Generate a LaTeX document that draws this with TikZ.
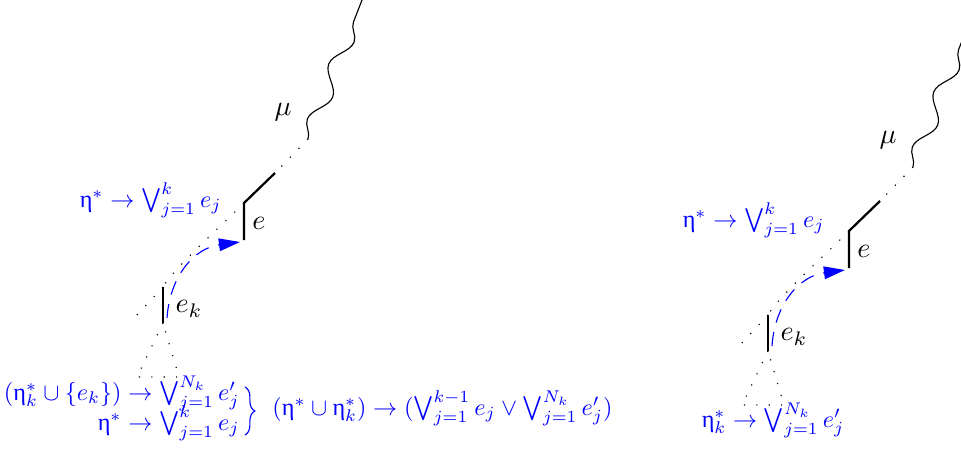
\documentclass[tikz,border=0pt]{standalone}
\usepackage{fontspec}
\newfontfamily\gregofont{Liberation Serif}
\newcommand{\etaup}{\mbox{\gregofont η}}
\usetikzlibrary{arrows.meta,decorations.pathmorphing,decorations.pathreplacing,positioning}

\tikzset{
  ramo/.style={thick},
  trilha/.style={loosely dotted},
  onda/.style={decorate,decoration={snake,amplitude=2.8pt,segment length=21pt}},
  retorno/.style={blue,dash pattern=on 5pt off 3.5pt,-{Triangle[length=7.5pt,width=4.5pt]}},
  rotulo/.style={blue,inner sep=0pt,scale=0.86},
}

\begin{document}
\begin{tikzpicture}[x=0.0125cm,y=-0.0125cm]
  \useasboundingbox (0,0) rectangle (961,449);
  % arvore da esquerda
  \coordinate (mu1) at (362,0);
  \coordinate (m1) at (308,139);
  \coordinate (r1) at (275,173);
  \coordinate (j1) at (244,203);
  \coordinate (e1) at (244,240);
  \coordinate (k1) at (163,287);
  \coordinate (kb1) at (163,323);
  \coordinate (kl1) at (135,317);
  \coordinate (tl1) at (137,377);
  \coordinate (tr1) at (179,377);
  \coordinate (v1) at (167,318);
  \coordinate (a1) at (240,242);
  \draw[onda] (m1) -- (mu1);
  \draw[trilha] (m1) -- (r1);
  \draw[ramo] (r1) -- (j1) -- (e1);
  \draw[trilha] (j1) .. controls +(-29,29) and +(12,-20) .. (k1);
  \draw[ramo] (k1) -- (kb1);
  \draw[trilha] (k1) -- (kl1);
  \draw[trilha] (kb1) -- (tl1) -- (tr1) -- cycle;
  \draw[retorno] (v1) .. controls +(3,-43) and +(-45,6) .. (a1);
  \node (lmu1) at (283,112) {$\mu$};
  \node[anchor=west,inner sep=1pt] (le1) at (249,223) {$e$};
  \node (lk1) at (189,309) {$e_k$};
  \node[rotulo,anchor=base east] (c1) at (222,207) {$\etaup^* \rightarrow \bigvee_{j=1}^{k} e_j$};
  \node[rotulo,anchor=base east] (b1) at (240,400) {$(\etaup_k^* \cup \{e_k\}) \rightarrow \bigvee_{j=1}^{N_k} e'_j$};
  \node[rotulo,anchor=base east] (b2) at (240,430) {$\etaup^* \rightarrow \bigvee_{j=1}^{k} e_j$};
  \draw[blue,decorate,decoration={brace,amplitude=3.5pt}] (245,387) -- (245,435);
  \node[rotulo,anchor=base west] (s1) at (272,415) {$(\etaup^* \cup \etaup_k^*) \rightarrow (\bigvee_{j=1}^{k-1} e_j \vee \bigvee_{j=1}^{N_k} e'_j)$};
  % arvore da direita
  \begin{scope}[shift={(605,28)}]
  \coordinate (mu2) at (362,0);
  \coordinate (m2) at (308,139);
  \coordinate (r2) at (275,173);
  \coordinate (j2) at (244,203);
  \coordinate (e2) at (244,240);
  \coordinate (k2) at (163,287);
  \coordinate (kb2) at (163,323);
  \coordinate (kl2) at (135,317);
  \coordinate (tl2) at (137,377);
  \coordinate (tr2) at (179,377);
  \coordinate (v2) at (167,318);
  \coordinate (a2) at (240,242);
  \draw[onda] (m2) -- (mu2);
  \draw[trilha] (m2) -- (r2);
  \draw[ramo] (r2) -- (j2) -- (e2);
  \draw[trilha] (j2) .. controls +(-29,29) and +(12,-20) .. (k2);
  \draw[ramo] (k2) -- (kb2);
  \draw[trilha] (k2) -- (kl2);
  \draw[trilha] (kb2) -- (tl2) -- (tr2) -- cycle;
  \draw[retorno] (v2) .. controls +(3,-43) and +(-45,6) .. (a2);
  \node (lmu2) at (283,112) {$\mu$};
  \node[anchor=west,inner sep=1pt] (le2) at (249,223) {$e$};
  \node (lk2) at (189,309) {$e_k$};
  \node[rotulo,anchor=base east] (c2) at (220,199) {$\etaup^* \rightarrow \bigvee_{j=1}^{k} e_j$};
  \node[rotulo,anchor=base] (b3) at (168,399) {$\etaup_k^* \rightarrow \bigvee_{j=1}^{N_k} e'_j$};
  \end{scope}
\end{tikzpicture}
\end{document}
